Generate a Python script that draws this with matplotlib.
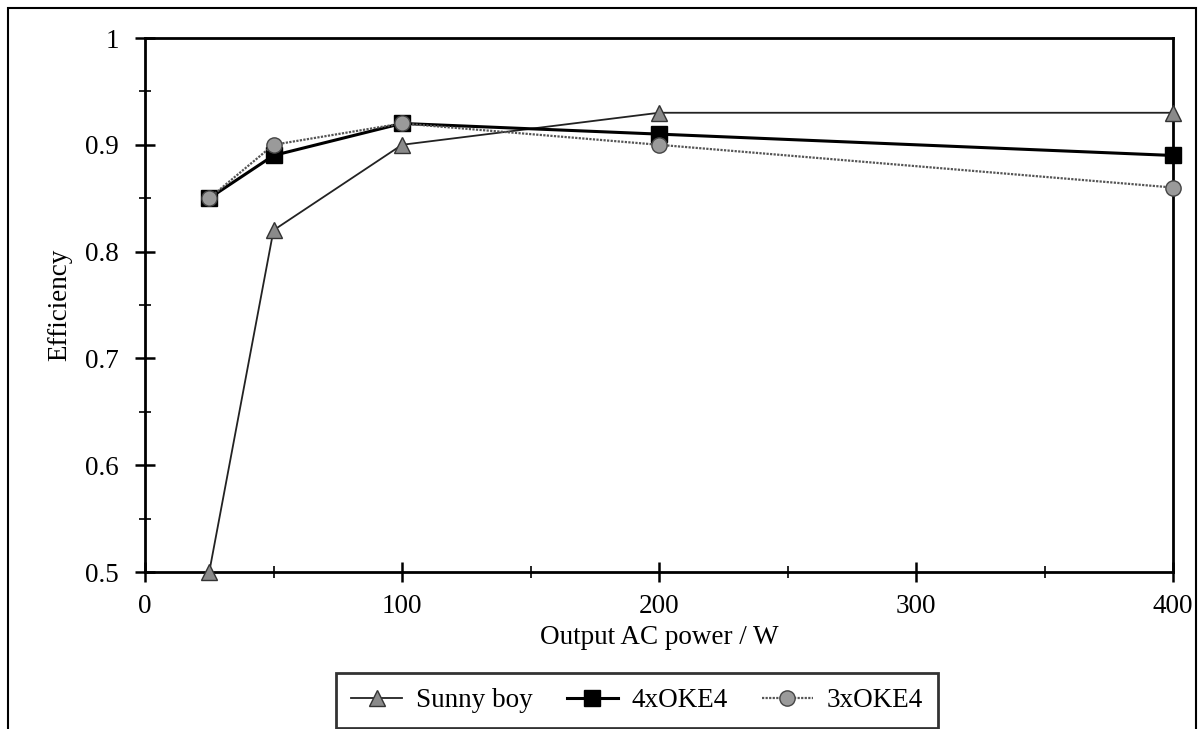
import matplotlib.pyplot as plt
from matplotlib.patches import Rectangle

# data
power = [25, 50, 100, 200, 400]
sunny_boy = [0.50, 0.82, 0.90, 0.93, 0.93]
oke4_x4 = [0.85, 0.89, 0.92, 0.91, 0.89]
oke4_x3 = [0.85, 0.90, 0.92, 0.90, 0.86]

x_ticks = [0, 100, 200, 300, 400]
y_ticks = [0.5, 0.6, 0.7, 0.8, 0.9, 1.0]
y_tick_labels = ["0.5", "0.6", "0.7", "0.8", "0.9", "1"]

plt.rcParams['font.family'] = ['Liberation Serif', 'DejaVu Serif']

fig = plt.figure(figsize=(12.04, 7.29), dpi=100)
ax = fig.add_axes([145/1204, 1 - 572/729, (1173 - 145)/1204, (572 - 38)/729])

ax.plot(power, sunny_boy, color='#222222', linewidth=1.3, marker='^', markersize=11,
        markerfacecolor='#8a8a8a', markeredgecolor='#333333', label='Sunny boy',
        zorder=3, clip_on=False)
ax.plot(power, oke4_x4, color='black', linewidth=2.2, marker='s', markersize=11,
        markerfacecolor='black', markeredgecolor='black', label='4xOKE4',
        zorder=3, clip_on=False)
ax.plot(power, oke4_x3, color='#555555', linewidth=1.6, linestyle=(0, (1, 0.6)), marker='o',
        markersize=11, markerfacecolor='#9a9a9a', markeredgecolor='#444444', label='3xOKE4',
        zorder=4, clip_on=False)

ax.set_xlim(0, 400)
ax.set_ylim(0.5, 1.0)
ax.set_xticks(x_ticks)
ax.set_xticks([50, 150, 250, 350], minor=True)
ax.set_yticks(y_ticks)
ax.set_yticklabels(y_tick_labels)
ax.set_yticks([0.55, 0.65, 0.75, 0.85, 0.95], minor=True)

ax.tick_params(which='major', direction='inout', length=14, width=1.8, labelsize=19.5)
ax.tick_params(which='minor', direction='inout', length=8, width=1.2)
ax.tick_params(axis='x', which='major', pad=9)
ax.tick_params(axis='y', which='major', pad=12)
for s in ax.spines.values():
    s.set_linewidth(2)
    s.set_color('black')

ax.set_xlabel("Output AC power / W", fontsize=19.5, labelpad=4)
ax.set_ylabel("Efficiency", fontsize=19.5, labelpad=9)

leg = fig.legend(loc='upper center', bbox_to_anchor=(637/1204, 1 - 668/729), ncol=3,
                 fontsize=19.5, frameon=True, fancybox=False, edgecolor='black',
                 handlelength=1.9, columnspacing=1.25, handletextpad=0.5,
                 borderpad=0.55, borderaxespad=0.2)
leg.get_frame().set_linewidth(2)

# outer frame around the whole figure
fig.patches.append(Rectangle((8/1204, -0.05), (1196 - 8)/1204, 1.05 - 8/729,
                             transform=fig.transFigure, fill=False,
                             edgecolor='black', linewidth=1.5))

fig.savefig("out.png", dpi=100)
